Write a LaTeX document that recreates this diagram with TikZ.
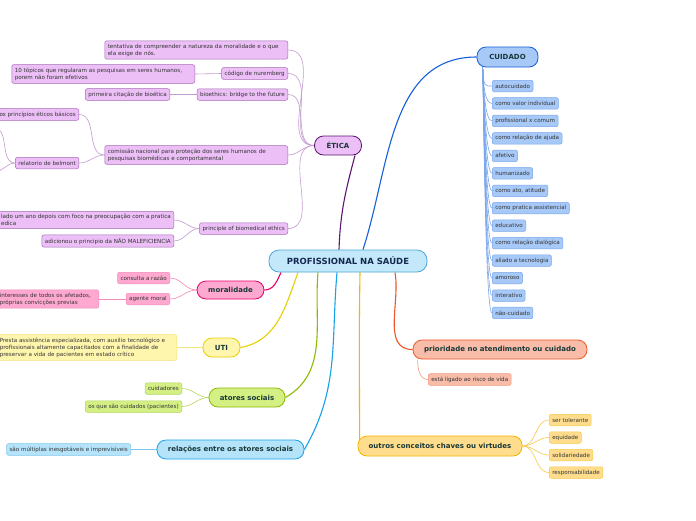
\documentclass[tikz,border=0pt]{standalone}
\usepackage{fontspec}
\setmainfont{DejaVu Sans}
\usetikzlibrary{positioning,backgrounds}

\definecolor{hubfill}{HTML}{C3E8FA}
\definecolor{hubdraw}{HTML}{4DA6D9}
\definecolor{hubtext}{HTML}{16284F}
\definecolor{branchtext}{HTML}{183838}
\definecolor{leaftext}{HTML}{333333}
\definecolor{eticafill}{HTML}{ECBFF7}
\definecolor{eticadraw}{HTML}{A46DB5}
\definecolor{eticamain}{HTML}{5B1770}
\definecolor{eticasub}{HTML}{C49ACF}
\definecolor{cuidfill}{HTML}{A7C9F8}
\definecolor{cuiddraw}{HTML}{7AA6EC}
\definecolor{cuidmain}{HTML}{1560D8}
\definecolor{moralfill}{HTML}{FFA9D1}
\definecolor{moraldraw}{HTML}{F28BB8}
\definecolor{moralmain}{HTML}{E6006B}
\definecolor{utifill}{HTML}{FFF6AE}
\definecolor{utidraw}{HTML}{F2E27A}
\definecolor{utimain}{HTML}{E6D000}
\definecolor{atorfill}{HTML}{D4F084}
\definecolor{atordraw}{HTML}{B3D65A}
\definecolor{atormain}{HTML}{8CBB00}
\definecolor{relfill}{HTML}{B5E4FA}
\definecolor{reldraw}{HTML}{7CC7EE}
\definecolor{relmain}{HTML}{14A2E8}
\definecolor{priofill}{HTML}{F8BCA9}
\definecolor{priodraw}{HTML}{F29A80}
\definecolor{priomain}{HTML}{EC5824}
\definecolor{outrfill}{HTML}{FFDD8C}
\definecolor{outrdraw}{HTML}{F7C84A}
\definecolor{outrmain}{HTML}{F8B400}

\tikzset{
    %Define standard node looks
    hub/.style={
      rectangle,
      rounded corners=10pt,
      draw=hubdraw, fill=hubfill, line width=0.8pt,
      minimum width=158pt,
      minimum height=22pt,
      text=hubtext,
      font=\bfseries\fontsize{8.5}{10}\selectfont},
    branch/.style={
      rectangle,
      rounded corners=9pt,
      line width=0.8pt,
      minimum height=19pt,
      text=branchtext,
      font=\bfseries\fontsize{7}{8}\selectfont},
    leaf/.style={
      rectangle,
      rounded corners=2pt,
      line width=0.5pt,
      inner xsep=3pt, inner ysep=3pt,
      minimum height=11.5pt,
      align=left,
      text=leaftext,
      font=\fontsize{5.6}{7}\selectfont},
    mainline/.style={line width=1.1pt},
    subline/.style={line width=0.6pt},
    %Branch colours
    eticabranch/.style={branch, fill=eticafill, draw=eticamain},
    eticaleaf/.style={leaf, fill=eticafill, draw=eticadraw},
    cuidbranch/.style={branch, fill=cuidfill, draw=cuidmain},
    cuidleaf/.style={leaf, fill=cuidfill, draw=cuiddraw},
    moralbranch/.style={branch, fill=moralfill, draw=moralmain},
    moralleaf/.style={leaf, fill=moralfill, draw=moraldraw},
    utibranch/.style={branch, fill=utifill, draw=utimain},
    utileaf/.style={leaf, fill=utifill, draw=utidraw},
    atorbranch/.style={branch, fill=atorfill, draw=atormain},
    atorleaf/.style={leaf, fill=atorfill, draw=atordraw},
    relbranch/.style={branch, fill=relfill, draw=relmain},
    relleaf/.style={leaf, fill=relfill, draw=reldraw},
    priobranch/.style={branch, fill=priofill, draw=priomain},
    prioleaf/.style={leaf, fill=priofill, draw=priodraw},
    outrbranch/.style={branch, fill=outrfill, draw=outrmain},
    outrleaf/.style={leaf, fill=outrfill, draw=outrdraw},
}

\begin{document}
\begin{tikzpicture}[x=1pt, y=-1pt]
    \useasboundingbox (0,0) rectangle (696,520);

    % centre and main branches
    \node (hub) [hub] at (348,261) {PROFISSIONAL NA SAÚDE};
    \node (etica) [eticabranch, minimum width=47pt] at (338,145.5) {ÉTICA};
    \node (cuidado) [cuidbranch, minimum width=61pt, minimum height=20pt] at (507.5,57) {CUIDADO};
    \node (moral) [moralbranch, minimum width=67pt, minimum height=18pt] at (230.5,290) {moralidade};
    \node (uti) [utibranch, minimum width=37pt] at (221.5,347.5) {UTI};
    \node (atores) [atorbranch, minimum width=76pt] at (247,397.5) {atores sociais};
    \node (relacoes) [relbranch, minimum width=147pt] at (230.5,449.5) {relações entre os atores sociais};
    \node (prioridade) [priobranch, minimum width=174pt] at (500,349.5) {prioridade no atendimento ou cuidado};
    \node (outros) [outrbranch, minimum width=164pt, minimum height=20pt] at (440,446) {outros conceitos chaves ou virtudes};

    % etica
    \node (tentativa) [eticaleaf, text width=177pt, anchor=east] at (288,50)
          {tentativa de compreender a natureza da moralidade e o que\\ela exige de nós.};
    \node (nuremberg) [eticaleaf, anchor=east] at (288,73.5) {código de nuremberg};
    \node (topicos) [eticaleaf, text width=177pt, anchor=east] at (195,74)
          {10 tópicos que regularam as pesquisas em seres humanos,\\porem não foram efetivos};
    \node (bioethics) [eticaleaf, anchor=east] at (288,94.5) {bioethics: bridge to the future};
    \node (primeira) [eticaleaf, anchor=east] at (170,94.5) {primeira citação de bioética};
    \node (comissao) [eticaleaf, text width=177pt, anchor=east] at (288,155)
          {comissão nacional para proteção dos seres humanos de\\pesquisas biomédicas e comportamental};
    \node (principios) [eticaleaf, anchor=east] at (79,114.5) {os princípios éticos básicos};
    \node (belmont) [eticaleaf, anchor=east] at (79,163) {relatorio de belmont};
    \coordinate (belmontup) at (-6,128);
    \coordinate (belmontdown) at (-6,172);
    \node (principle) [eticaleaf, anchor=east] at (288,228.5) {principle of biomedical ethics};
    \node (umano) [eticaleaf, anchor=east] at (174,220)
          {lado um ano depois com foco na preocupação com a pratica\\edica};
    \node (naomalef) [eticaleaf, anchor=east] at (174,241) {adicionou o principio da NÃO MALEFICIENCIA};

    % cuidado
    \node (autocuid) [cuidleaf, anchor=west] at (492,86) {autocuidado};
    \node (valorind) [cuidleaf, below=17.46pt of autocuid.west, anchor=west] {como valor individual};
    \node (profcomum) [cuidleaf, below=17.46pt of valorind.west, anchor=west] {profissional x comum};
    \node (relajuda) [cuidleaf, below=17.46pt of profcomum.west, anchor=west] {como relação de ajuda};
    \node (afetivo) [cuidleaf, below=17.46pt of relajuda.west, anchor=west] {afetivo};
    \node (humaniz) [cuidleaf, below=17.46pt of afetivo.west, anchor=west] {humanizado};
    \node (atoatit) [cuidleaf, below=17.46pt of humaniz.west, anchor=west] {como ato, atitude};
    \node (pratassist) [cuidleaf, below=17.46pt of atoatit.west, anchor=west] {como pratica assistencial};
    \node (educ) [cuidleaf, below=17.46pt of pratassist.west, anchor=west] {educativo};
    \node (reldialog) [cuidleaf, below=17.46pt of educ.west, anchor=west] {como relação dialógica};
    \node (tecnol) [cuidleaf, below=17.46pt of reldialog.west, anchor=west] {aliado a tecnologia};
    \node (amoroso) [cuidleaf, below=17.46pt of tecnol.west, anchor=west] {amoroso};
    \node (interat) [cuidleaf, below=17.46pt of amoroso.west, anchor=west] {interativo};
    \node (naocuid) [cuidleaf, below=17.46pt of interat.west, anchor=west] {não-cuidado};

    % moralidade
    \node (razao) [moralleaf, anchor=east] at (170,278) {consulta a razão};
    \node (agente) [moralleaf, anchor=east] at (170,299) {agente moral};
    \node (interesses) [moralleaf, text width=96pt, anchor=east] at (99,299)
          {interesses de todos os afetados,\\próprias convicções previas};

    % uti
    \node (presta) [utileaf, text width=174pt, anchor=east] at (177,347.5)
          {Presta assistência especializada, com auxilio tecnológico e\\profissionais altamente capacitados com a finalidade de\\preservar a vida de pacientes em estado crítico};

    % atores sociais
    \node (cuidadores) [atorleaf, anchor=east] at (182,388.5) {cuidadores};
    \node (pacientes) [atorleaf, anchor=east] at (182,406.5) {os que são cuidados (pacientes)};

    % relacoes
    \node (multiplas) [relleaf, anchor=east] at (131,449.5) {são múltiplas inesgotáveis e imprevisíveis};

    % prioridade
    \node (risco) [prioleaf, anchor=west] at (428,379.5) {está ligado ao risco de vida};

    % outros conceitos
    \node (tolerante) [outrleaf, anchor=west] at (549,420) {ser tolerante};
    \node (equidade) [outrleaf, below=17.5pt of tolerante.west, anchor=west] {equidade};
    \node (solidar) [outrleaf, below=17.5pt of equidade.west, anchor=west] {solidariedade};
    \node (respons) [outrleaf, below=17.5pt of solidar.west, anchor=west] {responsabilidade};

    \begin{scope}[on background layer]
      \fill[white] (0,0) rectangle (696,520);
      % main connectors
      \draw[mainline, eticamain] ([xshift=-9pt]hub.north) to[out=88, in=-105] ([xshift=17pt]etica.south);
      \draw[mainline, cuidmain] ([xshift=15pt]hub.north) to[out=72, in=180] (cuidado.west);
      \draw[mainline, moralmain] ([xshift=-67pt]hub.south) to[out=-115, in=0] (moral.east);
      \draw[mainline, utimain] ([xshift=-50pt]hub.south) to[out=-110, in=10] (uti.east);
      \draw[mainline, atormain] ([xshift=-30pt]hub.south) to[out=-95, in=30] (atores.east);
      \draw[mainline, relmain] ([xshift=-11pt]hub.south) to[out=-95, in=60] (relacoes.east);
      \draw[mainline, outrmain] ([xshift=12pt]hub.south) to[out=-91, in=90] ([xshift=2pt]outros.west);
      \draw[mainline, priomain] ([xshift=47pt]hub.south) to[out=-80, in=180] (prioridade.west);
      % etica connectors
      \draw[subline, eticasub] (tentativa.east) to[out=0, in=180] (etica.west);
      \draw[subline, eticasub] (nuremberg.east) to[out=0, in=180] (etica.west);
      \draw[subline, eticasub] (bioethics.east) to[out=0, in=180] (etica.west);
      \draw[subline, eticasub] (comissao.east) to[out=0, in=180] (etica.west);
      \draw[subline, eticasub] (principle.east) to[out=0, in=180] (etica.west);
      \draw[subline, eticasub] (nuremberg.west) -- (topicos.east);
      \draw[subline, eticasub] (bioethics.west) -- (primeira.east);
      \draw[subline, eticasub] (comissao.west) to[out=180, in=0] (principios.east);
      \draw[subline, eticasub] (comissao.west) to[out=180, in=0] (belmont.east);
      \draw[subline, eticasub] (belmont.west) to[out=180, in=0] (belmontup);
      \draw[subline, eticasub] (belmont.west) to[out=180, in=0] (belmontdown);
      \draw[subline, eticasub] (principle.west) to[out=180, in=0] (umano.east);
      \draw[subline, eticasub] (principle.west) to[out=180, in=0] (naomalef.east);
      % cuidado connectors
      \foreach \leafname in {autocuid, valorind, profcomum, relajuda, afetivo, humaniz, atoatit,
                             pratassist, educ, reldialog, tecnol, amoroso, interat, naocuid}
        \draw[subline, cuiddraw] ([xshift=6pt]cuidado.south west)
          to[out=-87, in=180, out distance=20pt, in distance=7pt] (\leafname.west);
      % moralidade connectors
      \draw[subline, moraldraw] (moral.west) to[out=180, in=0] (razao.east);
      \draw[subline, moraldraw] (moral.west) to[out=180, in=0] (agente.east);
      \draw[subline, moraldraw] (agente.west) -- (interesses.east);
      % uti, atores, relacoes, prioridade
      \draw[subline, utidraw] (uti.west) -- (presta.east);
      \draw[subline, atordraw] (atores.west) to[out=180, in=0] (cuidadores.east);
      \draw[subline, atordraw] (atores.west) to[out=180, in=0] (pacientes.east);
      \draw[subline, reldraw] (relacoes.west) -- (multiplas.east);
      \draw[subline, priodraw] ([xshift=5pt]prioridade.south west) to[out=-90, in=180] (risco.west);
      % outros connectors
      \draw[subline, outrdraw] (outros.east) to[out=0, in=180] (tolerante.west);
      \draw[subline, outrdraw] (outros.east) to[out=0, in=180] (equidade.west);
      \draw[subline, outrdraw] (outros.east) to[out=0, in=180] (solidar.west);
      \draw[subline, outrdraw] (outros.east) to[out=0, in=180] (respons.west);
    \end{scope}
\end{tikzpicture}
\end{document}
